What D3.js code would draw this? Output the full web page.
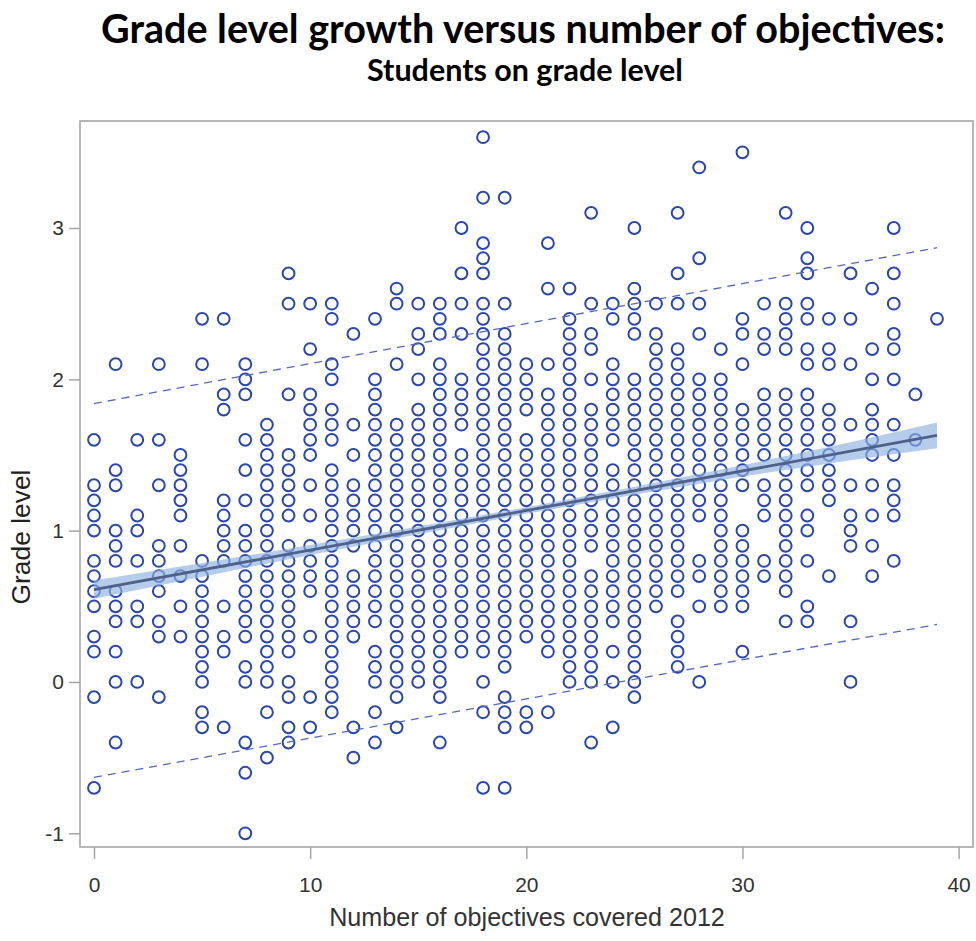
<!DOCTYPE html>
<html>
<head>
<meta charset="utf-8">
<script src="https://cdn.jsdelivr.net/npm/d3@7"></script>
<style>
  body { margin: 0; background: #fff; }
  svg { display: block; }
</style>
</head>
<body>
<div id="chart"></div>
<script>
// Number of objectives covered (x) — one column of points per value.
const objectives = [0, 1, 2, 3, 4, 5, 6, 7, 8, 9, 10, 11, 12, 13, 14, 15, 16, 17, 18, 19,
                    20, 21, 22, 23, 24, 25, 26, 27, 28, 29, 30, 31, 32, 33, 34, 35, 36, 37, 38, 39];

// Grade level growth per column, in tenths of a grade.
const gradeTenths = [
  [16,13,12,11,10,8,7,6,5,3,2,-1,-7],
  [21,14,13,10,9,8,6,5,4,2,0,-4],
  [16,11,10,8,5,4,0],
  [21,16,13,9,8,7,6,4,3,-1],
  [15,14,13,12,11,9,7,5,3],
  [24,21,8,7,6,5,4,3,2,1,0,-2,-3],
  [24,19,18,12,11,10,9,8,5,3,2,-3],
  [21,20,19,16,14,12,10,9,8,7,6,5,4,3,1,0,-4,-6,-10],
  [17,16,15,14,13,12,11,10,9,8,7,6,5,4,3,2,1,0,-2,-5],
  [27,25,19,15,14,13,12,11,9,8,7,6,5,4,3,2,0,-1,-3,-4],
  [25,22,19,18,17,16,15,13,11,9,8,7,6,3,-1,-3],
  [25,24,21,20,18,17,16,14,13,12,11,10,9,8,7,6,5,4,3,2,1,0,-1,-2],
  [23,17,15,13,12,11,10,9,7,6,5,4,3,-3,-5],
  [24,20,19,18,17,16,15,14,13,12,11,10,9,8,7,6,5,4,2,1,0,-2,-4],
  [26,25,21,17,16,15,14,13,12,11,10,9,8,7,6,5,4,3,2,1,0,-1,-3],
  [25,23,22,20,18,17,16,15,14,13,12,11,10,9,8,7,6,5,4,3,2,1,0],
  [25,24,23,21,20,19,18,17,16,15,14,13,12,11,10,9,8,7,6,5,4,3,2,1,0,-1,-4],
  [30,27,25,23,20,19,18,17,15,14,13,12,11,10,9,8,7,6,5,4,3,2],
  [36,32,29,28,27,25,24,23,22,21,20,19,18,17,16,15,14,13,12,11,10,9,8,7,6,5,4,3,2,0,-2,-7],
  [32,25,23,22,21,20,19,18,17,16,15,14,13,12,11,10,9,8,7,6,5,4,3,2,1,-1,-2,-3,-7],
  [21,20,19,18,16,15,14,13,12,11,10,9,8,7,6,5,4,3,-2,-3],
  [29,26,21,19,18,17,16,15,14,13,12,11,10,9,8,7,6,5,4,3,2,-2],
  [26,24,23,22,21,20,19,18,17,16,15,14,13,12,11,10,9,8,7,6,5,4,3,2,1,0],
  [31,25,23,22,20,18,17,16,15,14,13,12,11,10,9,7,6,5,4,3,2,1,0,-4],
  [25,24,21,20,19,18,17,16,14,13,12,11,10,9,8,7,6,5,4,2,0,-3],
  [30,26,25,24,23,20,19,18,17,16,15,14,13,12,11,10,9,8,7,6,5,4,3,2,1,0,-1],
  [25,23,22,21,20,19,18,17,16,15,14,13,12,11,10,9,8,7,6,5],
  [31,27,25,22,21,20,19,18,17,16,15,14,13,12,11,10,9,8,7,6,4,3,2,1],
  [34,28,25,23,20,19,18,17,16,15,14,13,12,11,8,7,5,0],
  [22,20,19,18,17,16,15,14,13,12,11,10,9,8,7,6,5],
  [35,24,23,21,18,17,16,15,14,13,10,9,8,7,6,5,2],
  [25,23,22,19,18,17,16,15,13,12,11,8,7],
  [31,25,24,23,22,19,18,17,16,15,14,13,12,11,10,9,8,7,6,4],
  [30,28,27,25,24,22,21,19,18,17,16,15,14,13,11,10,8,5,4],
  [24,22,21,18,17,16,15,14,13,12,7],
  [27,24,21,17,13,11,10,9,4,0],
  [26,22,20,18,17,16,15,13,11,9,7],
  [30,27,25,23,22,20,17,15,13,12,11,8],
  [19,16],
  [24]
];

// Regression fit, its confidence band and the prediction limits.
const fitX = [0, 39];
const fitY = [0.61, 1.63];
const bandX    = [0, 5, 10, 15, 20, 25, 30, 35, 39];
const bandLow  = [0.55, 0.696, 0.839, 0.977, 1.111, 1.238, 1.358, 1.465, 1.545];
const bandHigh = [0.67, 0.786, 0.905, 1.027, 1.155, 1.290, 1.432, 1.585, 1.715];
const predX    = [0, 39];
const predLow  = [-0.63, 0.38];
const predHigh = [1.84, 2.87];

const xTicks = [0, 10, 20, 30, 40];
const yTicks = [-1, 0, 1, 2, 3];

const W = 976, H = 941;
const frame = { left: 80, right: 973, top: 121, bottom: 847 };
const tickFont = "'Liberation Sans Narrow', 'Arial Narrow', 'Liberation Sans', Arial, sans-serif";

const svg = d3.select("#chart").append("svg")
    .attr("width", W).attr("height", H)
    .style("background", "#fff");

const x = d3.scaleLinear().domain([0, 40]).range([94, 958.6]);
const y = d3.scaleLinear().domain([-1, 3]).range([833.3, 228]);

// points — flatten the columns
const points = [];
objectives.forEach((o, i) => {
    for (const t of gradeTenths[i]) points.push({ x: o, y: t / 10 });
});

svg.append("g")
    .selectAll("circle")
    .data(points)
    .join("circle")
    .attr("cx", d => x(d.x))
    .attr("cy", d => y(d.y))
    .attr("r", 5.9)
    .attr("fill", "none")
    .attr("stroke", "#2846ad")
    .attr("stroke-width", 2);

// confidence band + fit line
const band = bandX.map((v, i) => ({ x: v, lo: bandLow[i], hi: bandHigh[i] }));
svg.append("path")
    .datum(band)
    .attr("d", d3.area().x(d => x(d.x)).y0(d => y(d.lo)).y1(d => y(d.hi)))
    .attr("fill", "#8eb0e0")
    .attr("fill-opacity", 0.65);

svg.append("path")
    .datum(fitX.map((v, i) => [v, fitY[i]]))
    .attr("d", d3.line().x(d => x(d[0])).y(d => y(d[1])))
    .attr("fill", "none")
    .attr("stroke", "#4f6089")
    .attr("stroke-width", 2.8);

// prediction limits (dashed)
for (const lim of [predLow, predHigh]) {
    svg.append("path")
        .datum(predX.map((v, i) => [v, lim[i]]))
        .attr("d", d3.line().x(d => x(d[0])).y(d => y(d[1])))
        .attr("fill", "none")
        .attr("stroke", "#5667c2")
        .attr("stroke-width", 1.3)
        .attr("stroke-dasharray", "8,6");
}

// frame
svg.append("rect")
    .attr("x", frame.left).attr("y", frame.top)
    .attr("width", frame.right - frame.left)
    .attr("height", frame.bottom - frame.top)
    .attr("fill", "none")
    .attr("stroke", "#a5a5a5")
    .attr("stroke-width", 1.6);

// axes
const xAxis = svg.append("g")
    .attr("transform", `translate(0,${frame.bottom})`)
    .call(d3.axisBottom(x).tickValues(xTicks).tickSize(12).tickPadding(18)
        .tickFormat(d => String(d)));
const yAxis = svg.append("g")
    .attr("transform", `translate(${frame.left},0)`)
    .call(d3.axisLeft(y).tickValues(yTicks).tickSize(11).tickPadding(5)
        .tickFormat(d => String(d)));

for (const ax of [xAxis, yAxis]) {
    ax.select(".domain").remove();
    ax.selectAll(".tick line").attr("stroke", "#a5a5a5").attr("stroke-width", 1.5);
    ax.selectAll(".tick text")
        .attr("fill", "#333")
        .style("font-family", tickFont)
        .style("font-size", "21px");
}

// titles and axis labels — sized to the width they take in the picture
function fitText(sel, targetW) {
    const w = sel.node().getComputedTextLength();
    const fs = parseFloat(sel.style("font-size"));
    sel.style("font-size", (fs * targetW / w) + "px");
}

const xLabel = svg.append("text")
    .attr("x", 527).attr("y", 926)
    .attr("text-anchor", "middle")
    .style("font-family", tickFont)
    .style("font-size", "22px")
    .attr("fill", "#333")
    .text("Number of objectives covered 2012");
fitText(xLabel, 396);

const yLabel = svg.append("text")
    .attr("transform", "translate(30,537) rotate(-90)")
    .attr("text-anchor", "middle")
    .style("font-family", tickFont)
    .style("font-size", "22px")
    .attr("fill", "#222")
    .text("Grade level");
fitText(yLabel, 135);

const title = svg.append("text")
    .attr("x", 523).attr("y", 43)
    .attr("text-anchor", "middle")
    .style("font-family", "Lato, 'Open Sans', sans-serif")
    .style("font-weight", "bold")
    .style("font-size", "32px")
    .attr("fill", "#000")
    .text("Grade level growth versus number of objectives:");
fitText(title, 844);

const subtitle = svg.append("text")
    .attr("x", 525).attr("y", 81)
    .attr("text-anchor", "middle")
    .style("font-family", "Lato, 'Open Sans', sans-serif")
    .style("font-weight", "bold")
    .style("font-size", "21px")
    .attr("fill", "#000")
    .text("Students on grade level");
fitText(subtitle, 316);
</script>
</body>
</html>
